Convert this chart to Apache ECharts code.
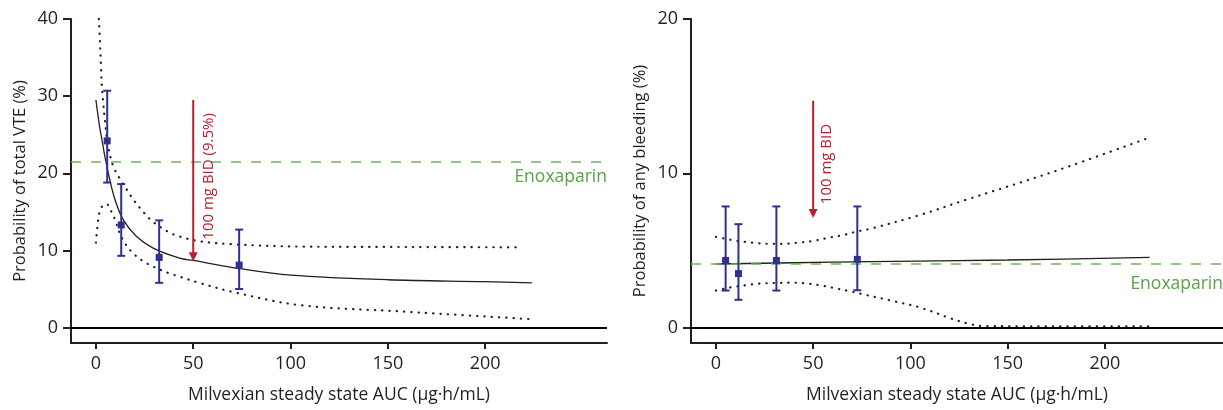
<!DOCTYPE html>
<html><head><meta charset="utf-8">
<script src="https://cdn.jsdelivr.net/npm/echarts@6/dist/echarts.min.js"></script>
<style>html,body{margin:0;padding:0;background:#fff}#c{width:1223px;height:410px}</style>
</head><body><div id="c"></div>
<script>
// ---------- data ----------
const xTicks = [0, 50, 100, 150, 200];
const vteYTicks = [0, 10, 20, 30, 40];
const bleedYTicks = [0, 10, 20];

// Left panel: probability of total VTE (%)
const vteModel = [[0,29.5],[1,27.6],[2,25.9],[3,24.5],[4.6,22.2],[7.2,19.1],[9.8,16.6],[14,14.0],[20.9,11.8],[29.4,10.3],[43,9.0],[50,8.7],[75,7.6],[100,6.8],[150,6.2],[200,5.95],[224,5.8]];
const vteUpper = [[1.5,40],[2.1,37],[2.6,34],[3,31.5],[3.8,29],[4.6,26.9],[6.3,23.5],[8.9,20.9],[12.3,19.3],[15.8,17.9],[19.2,16.6],[24.3,15.0],[29.4,13.7],[37.2,12.4],[43,11.8],[53,11.2],[70,10.8],[105,10.5],[150,10.45],[219,10.4]];
const vteLower = [[0,11],[0.7,12.9],[1.7,14.8],[3.4,15.8],[5.5,16.0],[8,15.0],[9.8,14],[12.3,12.2],[15.8,10.6],[19.2,9.6],[24.3,8.6],[29.4,7.9],[38,7.0],[43,6.6],[53,5.8],[70.6,4.6],[105,2.9],[156,2.1],[223,1.1]];
// [x, mean, low, high]
const vtePoints = [[5.8,24.2,18.8,30.7],[13.0,13.3,9.3,18.6],[32.5,9.1,5.8,13.9],[73.6,8.1,5.0,12.7]];
const vteEnox = 21.5;
const vteArrow = [50, 29.5, 8.6];

// Right panel: probability of any bleeding (%)
const bleedModel = [[0,4.12],[40,4.2],[80,4.27],[150,4.38],[223,4.55]];
const bleedUpper = [[0,5.88],[3.9,5.78],[11.6,5.6],[19.3,5.5],[27,5.43],[34.7,5.43],[42.4,5.5],[50.2,5.62],[57.9,5.82],[65.6,6.0],[73.3,6.25],[79.3,6.4],[105,7.3],[129,8.3],[173.5,10.1],[221.5,12.25]];
const bleedLower = [[0,2.4],[7.3,2.6],[15,2.74],[22.8,2.85],[30.5,2.89],[38.2,2.91],[45.9,2.87],[53.6,2.74],[61.3,2.55],[69,2.35],[76.7,2.13],[90,1.75],[105,1.3],[120.6,0.6],[130,0.25],[137.4,0.1],[180,0.08],[223,0.08]];
const bleedPoints = [[5.0,4.35,2.4,7.85],[11.6,3.5,1.8,6.7],[31.1,4.35,2.4,7.85],[72.7,4.42,2.42,7.85]];
const bleedEnox = 4.15;
const bleedArrow = [50, 14.7, 7.1];

// ---------- style ----------
const FONT = 'Open Sans';
const INK = '#231f20';
const BLUE = '#2e3192';
const RED = '#b7202e';
const GREEN_LINE = '#6cb35c';
const GREEN_TEXT = '#59a245';

const annotations = [
  {text: '100 mg BID (9.5%)', x: 58, y: 19.6},
  {text: '100 mg BID', x: 57, y: 10.6}
];

function xAxis(gridIndex, max) {
  return {
    type: 'value', gridIndex, min: -12.8, max,
    axisLine: {show: true, onZero: false, lineStyle: {color: INK, width: 2}},
    axisTick: {show: true, length: 6, lineStyle: {color: INK, width: 2}, customValues: xTicks},
    axisLabel: {color: INK, fontSize: 18, fontFamily: FONT, margin: 12, customValues: xTicks},
    splitLine: {show: false},
    name: 'Milvexian steady state AUC (μg·h/mL)', nameLocation: 'middle', nameGap: 43,
    nameTextStyle: {color: INK, fontSize: 17.5, fontFamily: FONT}
  };
}
function yAxis(gridIndex, min, max, ticks, name) {
  return {
    type: 'value', gridIndex, min, max,
    axisLine: {show: true, onZero: false, lineStyle: {color: INK, width: 2}},
    axisTick: {show: true, length: 8, lineStyle: {color: INK, width: 2}, customValues: ticks},
    axisLabel: {color: INK, fontSize: 18, fontFamily: FONT, margin: 13, customValues: ticks},
    splitLine: {show: false},
    name, nameLocation: 'middle', nameGap: 42, nameRotate: 90,
    nameTextStyle: {color: INK, fontSize: 16.5, fontFamily: FONT}
  };
}

function lineSeries(idx, data, dotted) {
  return {
    type: 'line', xAxisIndex: idx, yAxisIndex: idx, data, showSymbol: false, symbol: 'none',
    smooth: 0.35, silent: true, z: 3,
    lineStyle: dotted ? {color: INK, width: 2.2, type: [0.3, 7], cap: 'round'} : {color: INK, width: 1.3}
  };
}

function refSeries(idx, enox, dist) {
  return {
    type: 'line', xAxisIndex: idx, yAxisIndex: idx, data: [], silent: true,
    markLine: {
      silent: true, symbol: 'none', animation: false,
      data: [
        {yAxis: 0, lineStyle: {color: '#000', width: 2, type: 'solid'}, label: {show: false}},
        {yAxis: enox, lineStyle: {color: GREEN_LINE, width: 1.6, type: [10, 10]},
         label: {show: true, formatter: 'Enoxaparin', position: 'insideEndBottom', distance: [0, dist],
                 color: GREEN_TEXT, fontSize: 17.5, fontFamily: FONT}}
      ]
    }
  };
}

function errorSeries(idx, pts) {
  return {
    type: 'custom', xAxisIndex: idx, yAxisIndex: idx, data: pts, silent: true, z: 5,
    renderItem(params, api) {
      const x = api.value(0);
      const c = api.coord([x, api.value(1)]);
      const lo = api.coord([x, api.value(2)]);
      const hi = api.coord([x, api.value(3)]);
      const s = {stroke: BLUE, lineWidth: 2};
      const cw = 4;
      return {type: 'group', children: [
        {type: 'line', shape: {x1: c[0], y1: lo[1], x2: c[0], y2: hi[1]}, style: s},
        {type: 'line', shape: {x1: c[0]-cw, y1: lo[1], x2: c[0]+cw, y2: lo[1]}, style: s},
        {type: 'line', shape: {x1: c[0]-cw, y1: hi[1], x2: c[0]+cw, y2: hi[1]}, style: s},
        {type: 'rect', shape: {x: c[0]-3.5, y: c[1]-3.5, width: 7, height: 7}, style: {fill: BLUE}}
      ]};
    }
  };
}

function arrowSeries(idx, arrow, ann) {
  return {
    type: 'custom', xAxisIndex: idx, yAxisIndex: idx, data: [arrow], silent: true, z: 6,
    renderItem(params, api) {
      const top = api.coord([api.value(0), api.value(1)]);
      const tip = api.coord([api.value(0), api.value(2)]);
      const lp = api.coord([ann.x, ann.y]);
      const hl = 9, hw = 4.5;
      return {type: 'group', children: [
        {type: 'line', shape: {x1: top[0], y1: top[1], x2: tip[0], y2: tip[1]-hl+1}, style: {stroke: RED, lineWidth: 2}},
        {type: 'polygon', shape: {points: [[tip[0]-hw, tip[1]-hl], [tip[0]+hw, tip[1]-hl], [tip[0], tip[1]]]}, style: {fill: RED}},
        {type: 'text', x: lp[0], y: lp[1], rotation: Math.PI/2,
         style: {text: ann.text, fill: RED, font: '15px "' + FONT + '"', align: 'center', verticalAlign: 'middle'}}
      ]};
    }
  };
}

const chart = echarts.init(document.getElementById('c'), null, {renderer: 'canvas'});
chart.setOption({
  animation: false,
  backgroundColor: '#fff',
  grid: [
    {left: 71, top: 19, width: 536, bottom: 67},
    {left: 691, top: 19, width: 532, bottom: 67}
  ],
  xAxis: [xAxis(0, 262.6), xAxis(1, 260.7)],
  yAxis: [
    yAxis(0, -2, 40, vteYTicks, 'Probability of total VTE (%)'),
    yAxis(1, -1, 20, bleedYTicks, 'Probability of any bleeding (%)')
  ],
  series: [
    refSeries(0, vteEnox, 6),
    lineSeries(0, vteModel, false),
    lineSeries(0, vteUpper, true),
    lineSeries(0, vteLower, true),
    errorSeries(0, vtePoints),
    arrowSeries(0, vteArrow, annotations[0]),
    refSeries(1, bleedEnox, 11),
    lineSeries(1, bleedModel, false),
    lineSeries(1, bleedUpper, true),
    lineSeries(1, bleedLower, true),
    errorSeries(1, bleedPoints),
    arrowSeries(1, bleedArrow, annotations[1])
  ]
});
</script></body></html>
